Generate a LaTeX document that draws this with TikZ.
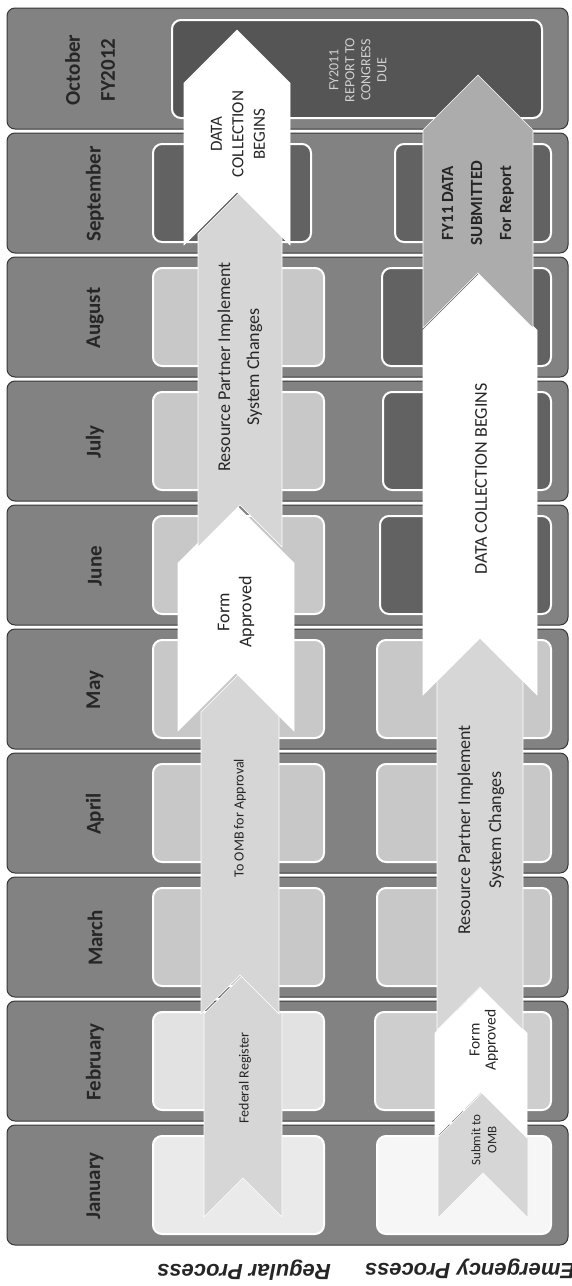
\documentclass[tikz,border=0pt]{standalone}
\usepackage{fontspec}
\setmainfont{Carlito}
\newfontfamily\lanefont{Liberation Sans}
\definecolor{bandgray}{RGB}{130,130,130}
\definecolor{bandline}{RGB}{55,55,55}
\definecolor{slotlight}{RGB}{200,200,200}
\definecolor{slotdark}{RGB}{98,98,98}
\definecolor{regjan}{RGB}{234,234,234}
\definecolor{regfeb}{RGB}{226,226,226}
\definecolor{emjan}{RGB}{246,246,246}
\definecolor{emfeb}{RGB}{206,206,206}
\definecolor{octdark}{RGB}{85,85,85}
\definecolor{stepgray}{RGB}{214,214,214}
\definecolor{stepmid}{RGB}{172,172,172}
\definecolor{inkgray}{RGB}{38,38,38}
\usepackage{tikz}
\usetikzlibrary{positioning}

\tikzset{
  monthband/.style={fill=bandgray, draw=bandline, line width=1pt, rounded corners=8pt},
  laneslot/.style={draw=white, line width=2pt, rounded corners=9pt},
  monthlabel/.style={rotate=90, font=\fontsize{21}{35}\selectfont\bfseries, text=inkgray, align=center},
  steplabel/.style={rotate=90, text=inkgray, align=center},
  chevron/.style={draw=white, line width=0.6pt},
  lanelabel/.style={rotate=180, font=\lanefont\fontsize{22}{26}\selectfont\bfseries\itshape, text=black!85}
}

% centre x, half width, head tip y, tail notch y, fill
\newcommand{\chevronshape}[5]{%
  \filldraw[chevron, fill=#5] (#1-#2,#4+#2) -- (#1,#4) -- (#1+#2,#4+#2)
    -- (#1+#2,#3+#2) -- (#1,#3) -- (#1-#2,#3+#2) -- cycle;}

\begin{document}
\begin{tikzpicture}[x=1pt, y=-1pt]
  \useasboundingbox (0,0) rectangle (571,1286);

  \foreach \m/\rc/\ec/\rr/\el [count=\i from 0] in {January/regjan/emjan/324/377,
      February/regfeb/emfeb/324/375, March/slotlight/slotlight/324/377,
      April/slotlight/slotlight/324/377, May/slotlight/slotlight/324/377,
      June/slotlight/slotdark/324/380, July/slotlight/slotdark/324/383,
      August/slotlight/slotdark/324/382, September/slotdark/slotdark/311/395} {
    \pgfmathsetmacro{\yb}{1245-124*\i}
    \draw[monthband] (7,\yb-120) rectangle (568,\yb);
    \filldraw[laneslot, fill=\rc] (153,\yb-109) rectangle (\rr,\yb-11);
    \filldraw[laneslot, fill=\ec] (\el,\yb-109) rectangle (551,\yb-11);
    \node[monthlabel] (m\i) at (95,\yb-59) {\m};
  }
  \draw[monthband] (7,8) rectangle (568,129);
  \filldraw[laneslot, fill=octdark] (172,20) rectangle (542,118);
  \node[monthlabel] (m9) at (90,70) {October\\FY2012};
  \node[steplabel, font=\fontsize{14}{16}\selectfont, text=white!82!black] (due) at (358,70) {FY2011\\REPORT TO\\CONGRESS\\DUE};

  % regular process
  \chevronshape{243}{39}{975}{1178}{stepgray}
  \chevronshape{240}{39}{673}{975}{stepgray}
  \chevronshape{236}{58}{505}{673}{white}
  \chevronshape{240}{42}{192}{505}{stepgray}
  \chevronshape{237}{53}{30}{192}{white}
  \node[steplabel, font=\fontsize{14}{16}\selectfont] (fedreg) at (245,1078) {Federal Register};
  \node[steplabel, font=\fontsize{14}{16}\selectfont] (toomb) at (240,818) {To OMB for Approval};
  \node[steplabel, font=\fontsize{18}{22}\selectfont] (formreg) at (236,612) {Form\\Approved};
  \node[steplabel, font=\fontsize{18}{29}\selectfont] (resreg) at (240,367) {Resource Partner Implement\\System Changes};
  \node[steplabel, font=\fontsize{17}{21.5}\selectfont] (datareg) at (238,134) {DATA\\COLLECTION\\BEGINS};

  % emergency process
  \chevronshape{483}{45}{1092}{1173}{stepgray}
  \chevronshape{481}{46}{987}{1092}{white}
  \chevronshape{480}{43}{638}{987}{stepgray}
  \chevronshape{480}{57}{273}{638}{white}
  \chevronshape{478}{55}{75}{273}{stepmid}
  \node[steplabel, font=\fontsize{13}{16}\selectfont] (submit) at (484,1140) {Submit to\\OMB};
  \node[steplabel, font=\fontsize{15.5}{16}\selectfont] (formem) at (484,1040) {Form\\Approved};
  \node[steplabel, font=\fontsize{18}{31}\selectfont] (resem) at (481,830) {Resource Partner Implement\\System Changes};
  \node[steplabel, font=\fontsize{18}{22}\selectfont] (dataem) at (481,479) {DATA COLLECTION BEGINS};
  \node[steplabel, font=\fontsize{17}{29}\selectfont\bfseries] (fy11) at (478,203) {FY11 DATA\\SUBMITTED\\For Report};

  \node[lanelabel] (regular) at (244,1270) {Regular Process};
  \node[lanelabel] (emergency) at (470,1269) {Emergency Process};
\end{tikzpicture}
\end{document}
